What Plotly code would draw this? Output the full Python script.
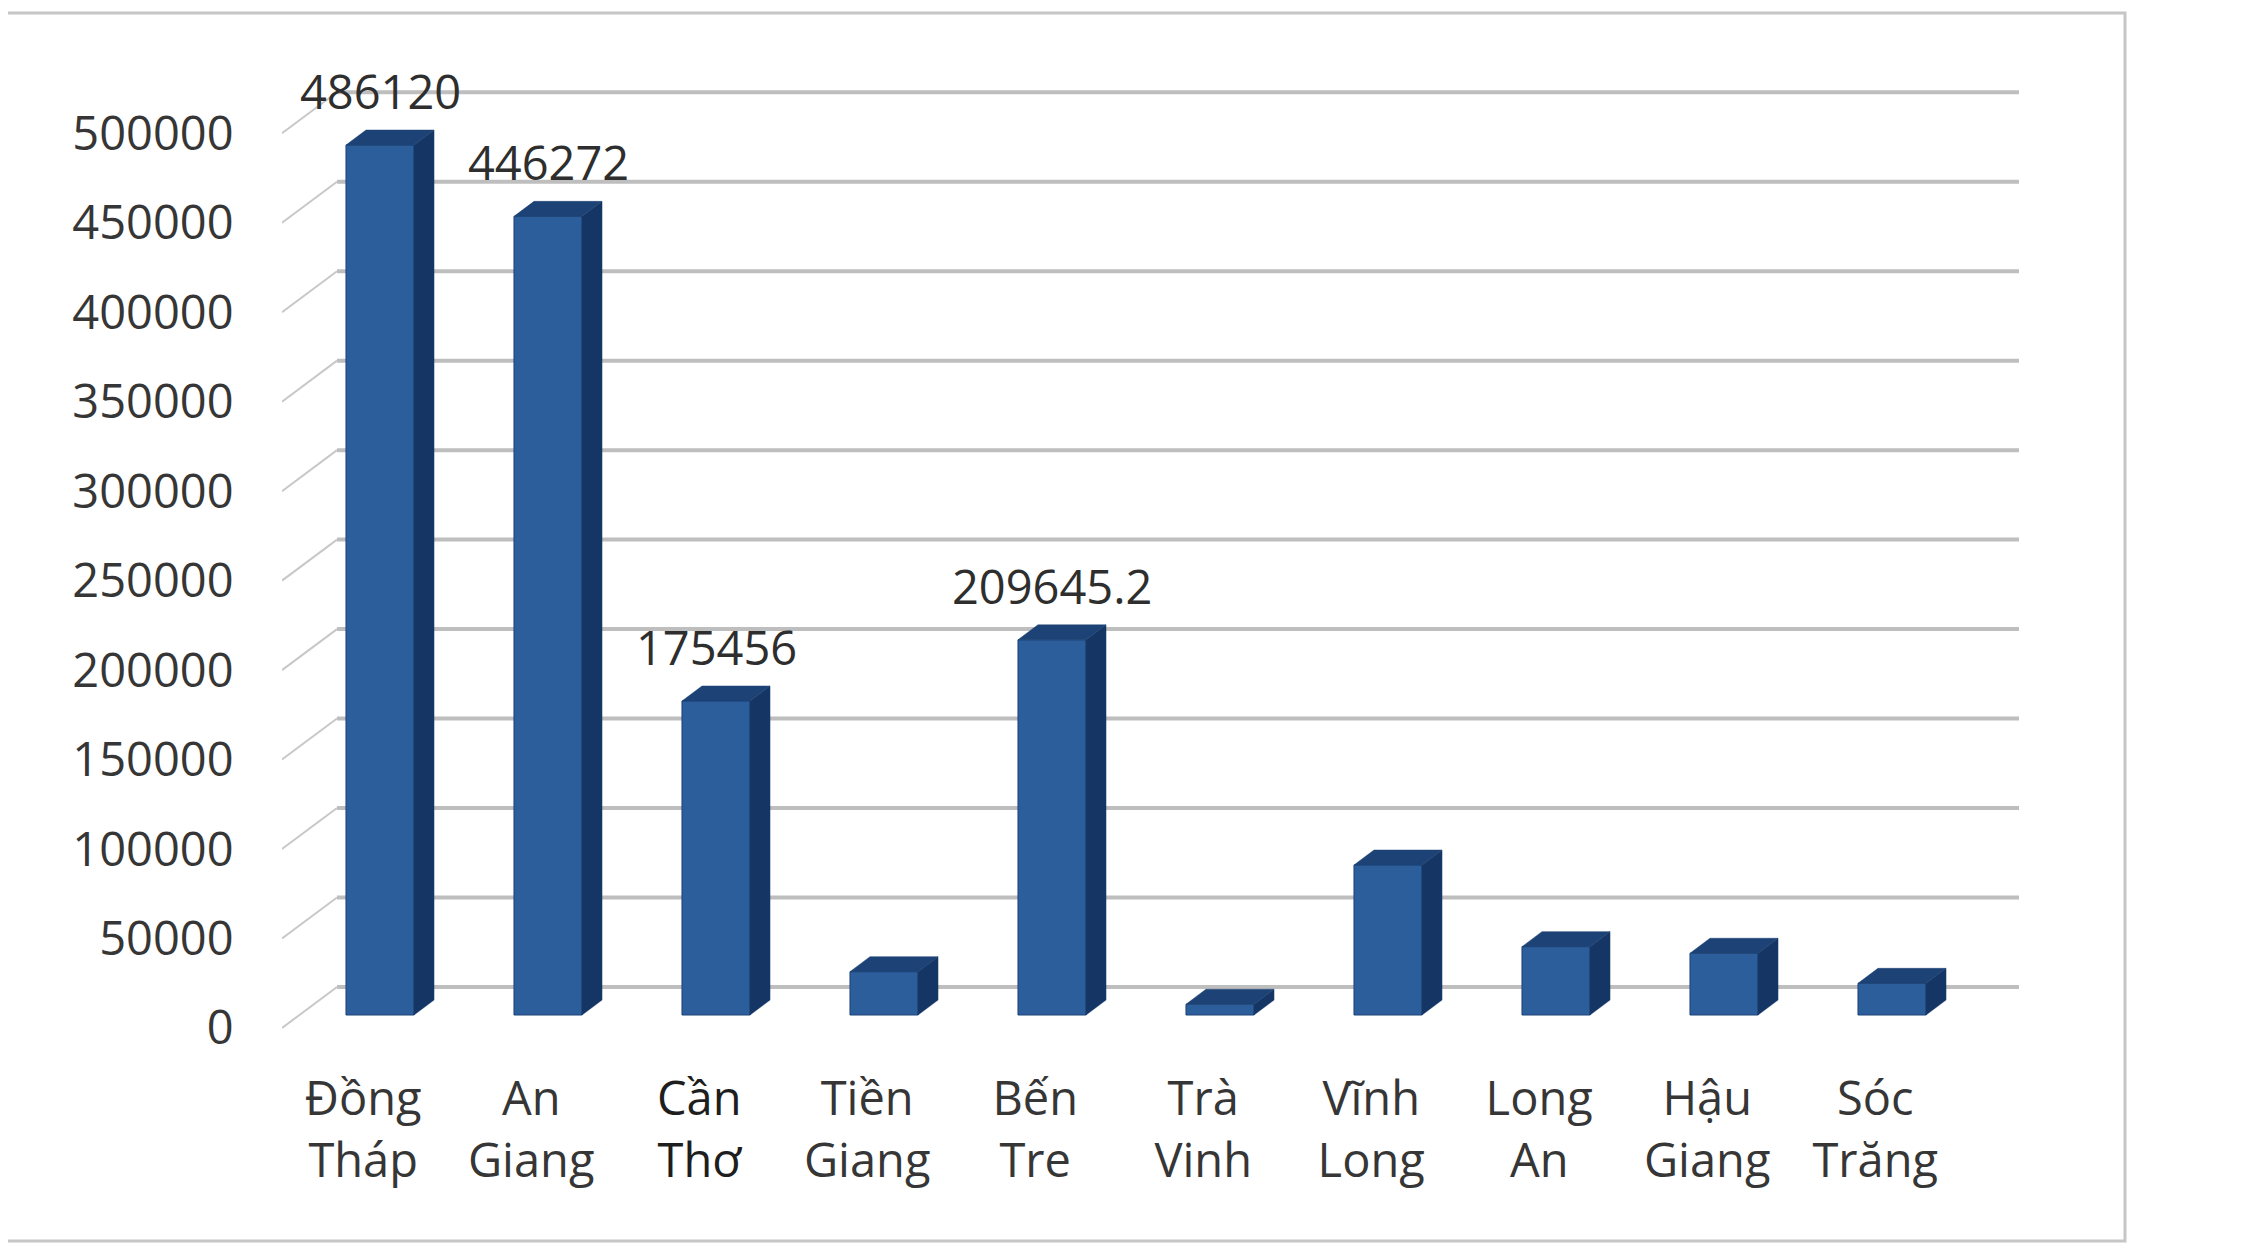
import plotly.graph_objects as go

# data
provinces = ["Đồng Tháp", "An Giang", "Cần Thơ", "Tiền Giang", "Bến Tre",
             "Trà Vinh", "Vĩnh Long", "Long An", "Hậu Giang", "Sóc Trăng"]
values = [486120, 446272, 175456, 24200, 209645.2, 6000, 83800, 38200, 34500, 17700]
labelled = ["Đồng Tháp", "An Giang", "Cần Thơ", "Bến Tre"]
y_ticks = [0, 50000, 100000, 150000, 200000, 250000, 300000, 350000, 400000, 450000, 500000]

# page geometry (pixels)
W, H = 2244, 1257
ML, MR, MT, MB = 274, W - 2011, 62, H - 1040
CAT_PX = 168          # distance between two bars
CAT0_PX = 372         # centre of first bar
BASE_PX = 1007        # bottom of bars
VAL_PER_PX = 558.8

X0 = (ML - CAT0_PX) / CAT_PX
X1 = (W - MR - CAT0_PX) / CAT_PX
Y1 = (BASE_PX - MT) * VAL_PER_PX
Y0 = -(H - MB - BASE_PX) * VAL_PER_PX

# fake 3d: back wall, front edge, bar depth
BACK_DY = 28 * VAL_PER_PX
FRONT_DY = -13 * VAL_PER_PX
BACK_X = (329 - CAT0_PX) / CAT_PX
BAR_W = 0.405
DX = 20 / CAT_PX
DY = 15 * VAL_PER_PX

FRONT_COL = "#2C5E9C"
SIDE_COL = "#153665"
TOP_COL = "#1D4275"
TEXT_COL = "#363636"
FONT = "Open Sans"

xs = list(range(len(provinces)))

# side and top faces of each bar
side_x, side_y, top_x, top_y = [], [], [], []
for i, v in zip(xs, values):
    r = i + BAR_W / 2
    l = i - BAR_W / 2
    side_x += [r, r + DX, r + DX, r, r, None]
    side_y += [0, DY, v + DY, v, 0, None]
    top_x += [l, l + DX, r + DX, r, l, None]
    top_y += [v, v + DY, v + DY, v, v, None]

fig = go.Figure()
fig.add_trace(go.Bar(x=xs, y=values, width=BAR_W,
                     marker=dict(color=FRONT_COL, line=dict(color="#1F4377", width=1)),
                     hoverinfo="skip"))
fig.add_trace(go.Scatter(x=side_x, y=side_y, mode="lines", fill="toself",
                         fillcolor=SIDE_COL, line=dict(width=0.5, color=SIDE_COL),
                         hoverinfo="skip"))
fig.add_trace(go.Scatter(x=top_x, y=top_y, mode="lines", fill="toself",
                         fillcolor=TOP_COL, line=dict(width=0.5, color=TOP_COL),
                         hoverinfo="skip"))

# gridlines on the back wall and the little floor diagonals
shapes = []
for t in y_ticks:
    shapes.append(dict(type="line", xref="x", yref="y", layer="below",
                       x0=BACK_X, x1=X1, y0=t + BACK_DY, y1=t + BACK_DY,
                       line=dict(color="#BEBEBE", width=4)))
    shapes.append(dict(type="line", xref="x", yref="y", layer="below",
                       x0=X0, x1=BACK_X, y0=t + FRONT_DY, y1=t + BACK_DY,
                       line=dict(color="#C8C8C8", width=2)))

# outer frame
pw = W - ML - MR
ph = H - MT - MB
def px_x(p):
    return (p - ML) / pw
def px_y(p):
    return (H - MB - p) / ph
shapes.append(dict(type="rect", xref="paper", yref="paper", layer="below",
                   x0=px_x(-5), x1=px_x(2117), y0=px_y(1233), y1=px_y(5),
                   line=dict(color="#C6C6C6", width=3)))

# value labels
annotations = []
for i, (p, v) in enumerate(zip(provinces, values)):
    if p in labelled:
        annotations.append(dict(x=i, y=v, xref="x", yref="y", text=str(v),
                                showarrow=False, yshift=54, yanchor="middle",
                                font=dict(family=FONT, size=47, color="#2E2E2E")))

tick_text = []
for p in provinces:
    t = p.replace(" ", "<br>")
    if p == "Cần Thơ":
        t = "<span style='color:#1E1E1E'>" + t + "</span>"
    tick_text.append(t)

fig.update_layout(
    width=W, height=H,
    margin=dict(l=ML, r=MR, t=MT, b=MB),
    paper_bgcolor="white", plot_bgcolor="white",
    showlegend=False,
    shapes=shapes,
    annotations=annotations,
    font=dict(family=FONT, size=47, color=TEXT_COL),
)
fig.update_xaxes(range=[X0, X1], showgrid=False, zeroline=False, showline=False,
                 tickvals=[i - 0.1 for i in xs], ticktext=tick_text,
                 ticks="outside", ticklen=10, tickcolor="rgba(0,0,0,0)",
                 tickfont=dict(family=FONT, size=47, color=TEXT_COL), tickangle=0)
fig.update_yaxes(range=[Y0, Y1], showgrid=False, zeroline=False, showline=False,
                 tickvals=[t + FRONT_DY for t in y_ticks], ticktext=[str(t) for t in y_ticks],
                 ticks="outside", ticklen=38, tickcolor="rgba(0,0,0,0)",
                 tickfont=dict(family=FONT, size=47, color=TEXT_COL))

fig.write_html("out.html")
